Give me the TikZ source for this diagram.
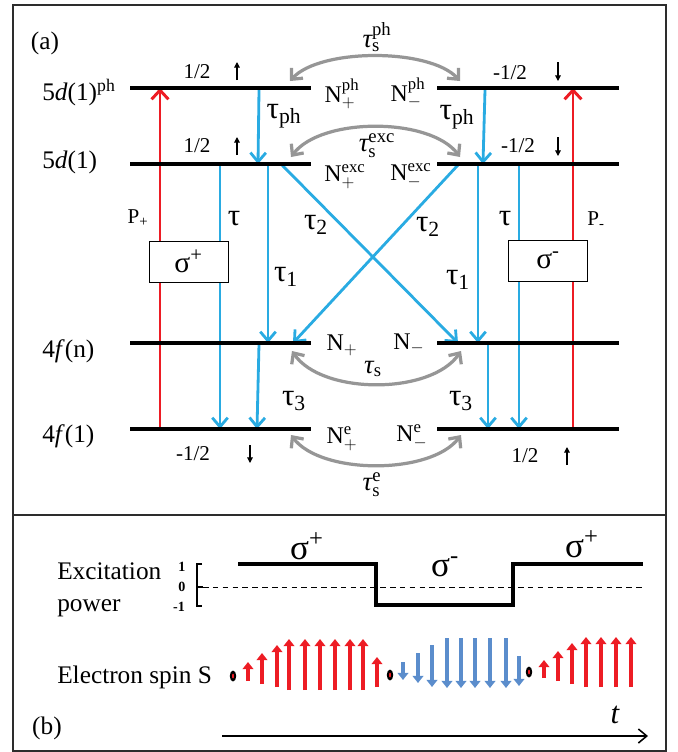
\documentclass[tikz,border=0pt]{standalone}
\usepackage{amsmath}
\usepackage{fontspec}
\setmainfont{Liberation Serif}
\usepackage{tikz}
\usetikzlibrary{positioning,arrows.meta}

\definecolor{pumpred}{RGB}{237,28,36}
\definecolor{decayblue}{RGB}{41,171,226}
\definecolor{flipgray}{RGB}{150,150,150}
\definecolor{spinblue}{RGB}{91,141,204}
\definecolor{framegray}{RGB}{45,45,45}

\tikzset{
  frame/.style={line width=1.1pt, framegray},
  level/.style={line width=2.2pt, black},
  pump/.style={line width=2.1pt, pumpred, -{Straight Barb[length=6.5pt,width=12pt]}},
  decay/.style={line width=2pt, decayblue, -{Straight Barb[length=6.5pt,width=11pt]}},
  flip/.style={line width=2.3pt, flipgray, {Straight Barb[length=6pt,width=11pt]}-{Straight Barb[length=6pt,width=11pt]}},
  spinmark/.style={line width=0.8pt, -{Triangle[length=4pt,width=4pt]}},
  polbox/.style={draw, fill=white, line width=0.6pt, minimum width=1.975cm, minimum height=1.025cm, font=\fontsize{21}{24}\selectfont},
  lvllab/.style={anchor=base west, inner sep=0pt, font=\fontsize{18}{21}\selectfont},
  spinlab/.style={inner sep=0pt, font=\fontsize{15}{18}\selectfont},
  poplab/.style={inner sep=0pt, font=\fontsize{17}{20}\selectfont},
  ratelab/.style={inner sep=0pt, font=\fontsize{22}{26}\selectfont},
  fliplab/.style={inner sep=0pt, font=\fontsize{19}{22}\selectfont},
  textlab/.style={inner sep=0pt, font=\fontsize{18}{22.5}\selectfont},
  sigmalab/.style={inner sep=0pt, font=\fontsize{25}{28}\selectfont},
  spinup/.style={line width=3.1pt, pumpred, -{Triangle[length=5pt,width=7.5pt]}},
  spindown/.style={line width=3.1pt, spinblue, -{Triangle[length=5pt,width=7.5pt]}},
  wave/.style={line width=2.2pt, black}
}

\begin{document}
\begin{tikzpicture}[x=0.025cm, y=-0.025cm]
\useasboundingbox (0,0) rectangle (678,752);

% Frames
\draw[frame] (13,5) rectangle (666,515);
\draw[frame] (13,515) rectangle (666,751);

% Arrow end points
\coordinate (pL-a) at (160,429);   \coordinate (pL-b) at (160,88);
\coordinate (pR-a) at (573,429);   \coordinate (pR-b) at (573,88);
\coordinate (tphL-a) at (259,90);  \coordinate (tphL-b) at (258,164);
\coordinate (tphR-a) at (485,90);  \coordinate (tphR-b) at (483,164);
\coordinate (tauL-a) at (220,165); \coordinate (tauL-b) at (220,429);
\coordinate (tauR-a) at (519,165); \coordinate (tauR-b) at (519,429);
\coordinate (t1L-a) at (268,165);  \coordinate (t1L-b) at (268,343);
\coordinate (t1R-a) at (478,165);  \coordinate (t1R-b) at (478,343);
\coordinate (t2L-a) at (282,165);  \coordinate (t2L-b) at (458,343);
\coordinate (t2R-a) at (458,165);  \coordinate (t2R-b) at (293,343);
\coordinate (t3L-a) at (259,344);  \coordinate (t3L-b) at (257,429);
\coordinate (t3R-a) at (488,344);  \coordinate (t3R-b) at (488,429);
\coordinate (sph-L) at (290,81);   \coordinate (sph-R) at (460,81);
\coordinate (sexc-L) at (291,157); \coordinate (sexc-R) at (460,157);
\coordinate (sn-L) at (292,351);   \coordinate (sn-R) at (461,351);
\coordinate (se-L) at (291,435);   \coordinate (se-R) at (461,435);

% Pump arrows
\draw[pump] (pL-a) -- (pL-b);
\draw[pump] (pR-a) -- (pR-b);

% Decay arrows
\draw[decay] (tphL-a) -- (tphL-b);
\draw[decay] (tphR-a) -- (tphR-b);
\draw[decay] (tauL-a) -- (tauL-b);
\draw[decay] (tauR-a) -- (tauR-b);
\draw[decay] (t1L-a) -- (t1L-b);
\draw[decay] (t1R-a) -- (t1R-b);
\draw[decay] (t2L-a) -- (t2L-b);
\draw[decay] (t2R-a) -- (t2R-b);
\draw[decay] (t3L-a) -- (t3L-b);
\draw[decay] (t3R-a) -- (t3R-b);

% Levels
\foreach \y in {88,164,343,429} {
  \draw[level] (130,\y) -- (311,\y);
  \draw[level] (437,\y) -- (619,\y);
}

% Spin flips
\draw[flip] (sph-L) .. controls +(30,-33) and +(-30,-33) .. (sph-R);
\draw[flip] (sexc-L) .. controls +(30,-40) and +(-30,-40) .. (sexc-R);
\draw[flip] (sn-L) .. controls +(30,44) and +(-30,44) .. (sn-R);
\draw[flip] (se-L) .. controls +(30,40) and +(-30,40) .. (se-R);

% Polarisation boxes
\node[polbox] (sigp) at (188.5,261.5) {σ\textsuperscript{+}};
\node[polbox] (sigm) at (548,260.5) {σ\textsuperscript{-}};

% Level labels
\node[textlab, anchor=center] (lab-a) at (45,43) {(a)};
\node[lvllab] (lvl-ph) at (42,100) {5\textit{d}(1)\textsuperscript{ph}};
\node[lvllab] (lvl-exc) at (42,168) {5\textit{d}(1)};
\node[lvllab] (lvl-n) at (42,357) {4\textit{f}(n)};
\node[lvllab] (lvl-g) at (42,442) {4\textit{f}(1)};

% Spin labels
\node[spinlab] (spin-ph-L) at (197,72) {1/2};
\node[spinlab] (spin-exc-L) at (197,146) {1/2};
\node[spinlab] (spin-ph-R) at (510,73) {-1/2};
\node[spinlab] (spin-exc-R) at (518,146) {-1/2};
\node[spinlab] (spin-g-L) at (193,454) {-1/2};
\node[spinlab] (spin-g-R) at (525,456) {1/2};
\draw[spinmark] (237,80) -- (237,62);
\draw[spinmark] (237,155) -- (237,137);
\draw[spinmark] (558,62) -- (558,81);
\draw[spinmark] (558,137) -- (558,156);
\draw[spinmark] (250,445) -- (250,463);
\draw[spinmark] (567,465) -- (567,447);

% Populations
\node[poplab] (Nph-p) at (342,94) {N$^{\text{ph}}_{+}$};
\node[poplab] (Nph-m) at (408,93) {N$^{\text{ph}}_{-}$};
\node[poplab] (Nexc-p) at (345,177) {N$^{\text{exc}}_{+}$};
\node[poplab] (Nexc-m) at (411,176) {N$^{\text{exc}}_{-}$};
\node[poplab] (Nn-p) at (342,345) {N$_{+}$};
\node[poplab] (Nn-m) at (409,344) {N$_{-}$};
\node[poplab] (Ne-p) at (342,439) {N$^{\text{e}}_{+}$};
\node[poplab] (Ne-m) at (412,437) {N$^{\text{e}}_{-}$};

% Rates
\node[spinlab] (P-p) at (138,218) {P\textsubscript{+}};
\node[spinlab] (P-m) at (596,220) {P\textsubscript{-}};
\node[ratelab] (tau-L) at (234,219) {τ};
\node[ratelab] (tau-R) at (505,219) {τ};
\node[ratelab] (tph-L) at (284,116) {τ\textsubscript{ph}};
\node[ratelab] (tph-R) at (457,117) {τ\textsubscript{ph}};
\node[ratelab] (t1-L) at (286,277) {τ\textsubscript{1}};
\node[ratelab] (t1-R) at (458,280) {τ\textsubscript{1}};
\node[ratelab] (t2-L) at (316,225) {τ\textsubscript{2}};
\node[ratelab] (t2-R) at (428,227) {τ\textsubscript{2}};
\node[ratelab] (t3-L) at (294,401) {τ\textsubscript{3}};
\node[ratelab] (t3-R) at (461,401) {τ\textsubscript{3}};
\node[fliplab] (ts-ph) at (377,37) {$\textit{τ}^{\text{ph}}_{\text{s}}$};
\node[fliplab] (ts-exc) at (377,146) {$\textit{τ}^{\text{exc}}_{\text{s}}$};
\node[fliplab] (ts-n) at (373,369) {$\textit{τ}_{\text{s}}$};
\node[fliplab] (ts-e) at (372,485) {$\textit{τ}^{\text{e}}_{\text{s}}$};

% (b) Excitation power
\node[textlab, anchor=west, align=left] (exc) at (57,590) {Excitation\\power};
\node[inner sep=0pt, font=\fontsize{10}{12}\selectfont\bfseries] (ax-1) at (182,567) {1};
\node[inner sep=0pt, font=\fontsize{10}{12}\selectfont\bfseries] (ax-0) at (182,587) {0};
\node[inner sep=0pt, font=\fontsize{10}{12}\selectfont\bfseries] (ax-m1) at (179,607) {-1};
\draw[line width=0.9pt] (202,564) -- (197,564) -- (197,606) -- (202,606);
\draw[line width=0.9pt] (197,587) -- (203,587);
\draw[line width=0.6pt, dash pattern=on 4pt off 3pt] (203,587) -- (642,587);
\draw[wave] (238,564) -- (376,564) -- (376,605) -- (513,605) -- (513,564) -- (643,564);
\node[sigmalab] (pw-1) at (307,546) {σ\textsuperscript{+}};
\node[sigmalab] (pw-2) at (445,567) {σ\textsuperscript{-}};
\node[sigmalab] (pw-3) at (582,544) {σ\textsuperscript{+}};

% (b) Electron spin
\node[textlab, anchor=west] (spinS) at (57,677) {Electron spin S};
\foreach \x/\b/\t in {248/681/662, 262/684/653, 277/687/645, 289/690/639, 305/690/639,
  320/690/639, 335/690/639, 350/690/639, 363/690/639, 377/687/657,
  544/678/660, 558/681/651, 572/684/643, 586/687/637, 601/687/637, 616/687/637, 631/687/637}
  \draw[spinup] (\x,\b) -- (\x,\t);
\foreach \x/\t/\b in {403/662/680, 418/653/683, 432/645/687, 447/638/688, 461/638/688,
  475/638/688, 490/638/688, 506/638/688, 519/656/686}
  \draw[spindown] (\x,\t) -- (\x,\b);
\foreach \x/\y in {233/676, 390/675, 529/672} {
  \fill[black] (\x,\y) ellipse (3.2 and 5.5);
  \fill[pumpred] (\x,\y) ellipse (1 and 2.5);
}

% (b) Time axis
\coordinate (time-a) at (222,736);
\coordinate (time-b) at (648,736);
\draw[line width=1.1pt, -{Straight Barb[length=6pt,width=10pt]}] (time-a) -- (time-b);
\node[inner sep=0pt, font=\fontsize{22}{26}\selectfont\itshape] (time) at (615,715) {t};
\node[textlab] (lab-b) at (47,728) {(b)};
\end{tikzpicture}
\end{document}
